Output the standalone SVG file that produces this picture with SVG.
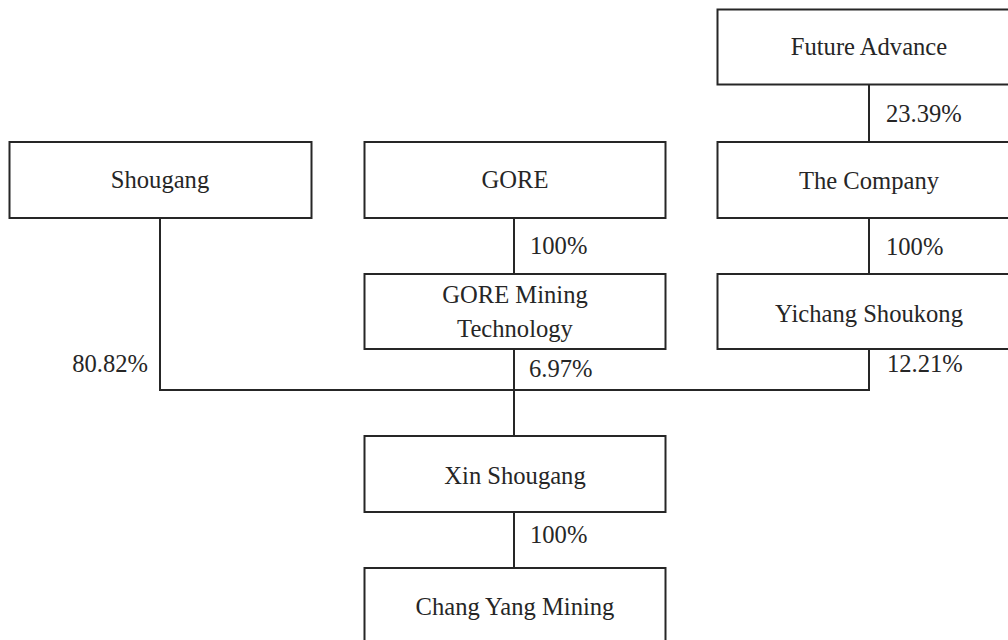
<svg xmlns="http://www.w3.org/2000/svg" width="1008" height="640" viewBox="0 0 1008 640">
<style>
.box{fill:#ffffff;stroke:#262626;stroke-width:2}
.ln{fill:none;stroke:#262626;stroke-width:2}
text{font-family:"Liberation Serif","Times New Roman",serif;font-size:24.6px;fill:#262626}
.c{text-anchor:middle}
.e{text-anchor:end}
</style>
<rect width="1008" height="640" fill="#ffffff"/>
<g id="connectors">
<path class="ln" d="M869 84V142"/>
<path class="ln" d="M869 218V274"/>
<path class="ln" d="M514 218V274"/>
<path class="ln" d="M160 218V390H869V349"/>
<path class="ln" d="M514 349V436"/>
<path class="ln" d="M514 512V568"/>
<text x="886" y="122">23.39%</text>
<text x="886" y="255">100%</text>
<text x="530" y="254">100%</text>
<text x="148" y="372" class="e">80.82%</text>
<text x="529" y="377">6.97%</text>
<text x="887" y="372">12.21%</text>
<text x="530" y="543">100%</text>
</g>
<g id="future-advance">
<rect class="box" x="717.5" y="9.5" width="302" height="75"/>
<text x="869" y="55" class="c">Future Advance</text>
</g>
<g id="shougang">
<rect class="box" x="9.5" y="142" width="302" height="76"/>
<text x="160" y="187.5" class="c">Shougang</text>
</g>
<g id="gore">
<rect class="box" x="364.5" y="142" width="301" height="76"/>
<text x="515" y="187.5" class="c">GORE</text>
</g>
<g id="the-company">
<rect class="box" x="717.5" y="142" width="302" height="76"/>
<text x="869" y="188.5" class="c">The Company</text>
</g>
<g id="gore-mining-technology">
<rect class="box" x="364.5" y="274" width="301" height="75"/>
<text x="515" y="303" class="c">GORE Mining</text>
<text x="515" y="337" class="c">Technology</text>
</g>
<g id="yichang-shoukong">
<rect class="box" x="717.5" y="274" width="302" height="75"/>
<text x="869" y="321.5" class="c">Yichang Shoukong</text>
</g>
<g id="xin-shougang">
<rect class="box" x="364.5" y="436" width="301" height="76"/>
<text x="515" y="483.5" class="c">Xin Shougang</text>
</g>
<g id="chang-yang-mining">
<rect class="box" x="364.5" y="568" width="301" height="90"/>
<text x="515" y="615" class="c">Chang Yang Mining</text>
</g>
</svg>
